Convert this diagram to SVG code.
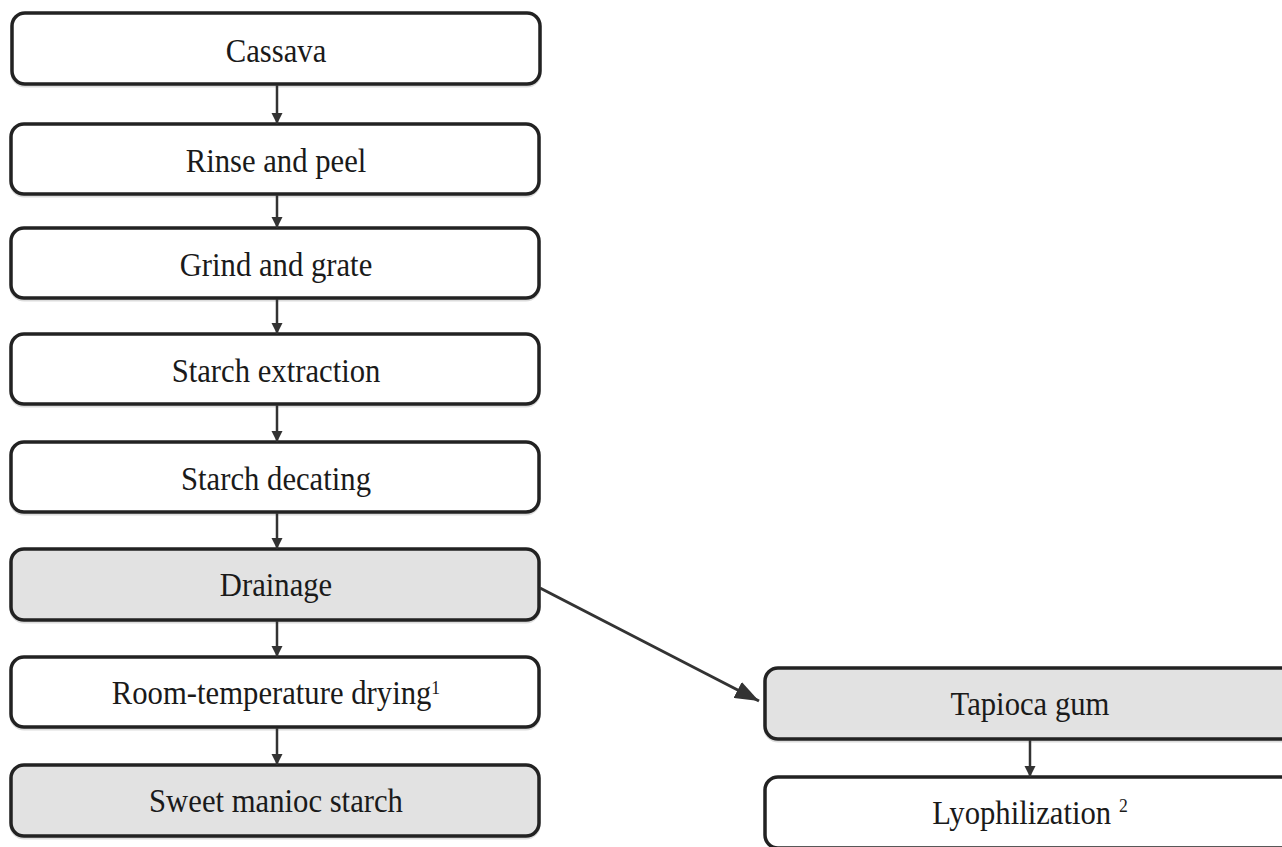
<svg xmlns="http://www.w3.org/2000/svg" width="1282" height="847" viewBox="0 0 1282 847">
<style>
.box{stroke:#222;stroke-width:3.5;fill:#fff}
.gray{fill:#e2e2e2}
.shadow{fill:none;stroke:#dcdcdc;stroke-width:3}
.lbl{font-family:"Liberation Serif","Times New Roman",serif;font-size:33px;fill:#1a1a1a;text-anchor:middle;transform-box:fill-box;transform-origin:center;transform:scaleX(0.93)}
.sup{font-size:19px}
.conn{stroke:#333;stroke-width:2.5;fill:none}
.diag{stroke:#333;stroke-width:3;fill:none}
</style>
<defs>
<marker id="ah" markerWidth="11" markerHeight="13" refX="11" refY="6.5" orient="auto" markerUnits="userSpaceOnUse">
<path d="M0,1 L11,6.5 L0,12 Z" fill="#333"/>
</marker>
<marker id="ahBig" markerWidth="24" markerHeight="18" refX="24" refY="9" orient="auto" markerUnits="userSpaceOnUse">
<path d="M0,0 L24,9 L0,18 Z" fill="#333"/>
</marker>
</defs>
<rect width="1282" height="847" fill="#fff"/>
<g id="n1"><rect class="shadow" x="12" y="15" width="528" height="71" rx="13"/><rect class="box" x="12" y="13" width="528" height="71" rx="13"/><text class="lbl" x="276" y="62">Cassava</text></g>
<g id="n2"><rect class="shadow" x="11" y="126" width="528" height="70" rx="13"/><rect class="box" x="11" y="124" width="528" height="70" rx="13"/><text class="lbl" x="276" y="172">Rinse and peel</text></g>
<g id="n3"><rect class="shadow" x="11" y="230" width="528" height="70" rx="13"/><rect class="box" x="11" y="228" width="528" height="70" rx="13"/><text class="lbl" x="276" y="276">Grind and grate</text></g>
<g id="n4"><rect class="shadow" x="11" y="336" width="528" height="70" rx="13"/><rect class="box" x="11" y="334" width="528" height="70" rx="13"/><text class="lbl" x="276" y="382">Starch extraction</text></g>
<g id="n5"><rect class="shadow" x="11" y="444" width="528" height="70" rx="13"/><rect class="box" x="11" y="442" width="528" height="70" rx="13"/><text class="lbl" x="276" y="490">Starch decating</text></g>
<g id="n6"><rect class="shadow" x="11" y="551" width="528" height="71" rx="13"/><rect class="box gray" x="11" y="549" width="528" height="71" rx="13"/><text class="lbl" x="276" y="596">Drainage</text></g>
<g id="n7"><rect class="shadow" x="11" y="659" width="528" height="70" rx="13"/><rect class="box" x="11" y="657" width="528" height="70" rx="13"/><text class="lbl" x="276" y="704">Room-temperature drying<tspan class="sup" dy="-10">1</tspan></text></g>
<g id="n8"><rect class="shadow" x="11" y="767" width="528" height="71" rx="13"/><rect class="box gray" x="11" y="765" width="528" height="71" rx="13"/><text class="lbl" x="276" y="812">Sweet manioc starch</text></g>
<g id="n9"><rect class="shadow" x="765" y="670" width="530" height="71" rx="13"/><rect class="box gray" x="765" y="668" width="530" height="71" rx="13"/><text class="lbl" x="1030" y="715">Tapioca gum</text></g>
<g id="n10"><rect class="box" x="765" y="777" width="530" height="71" rx="13"/><text class="lbl" x="1030" y="824">Lyophilization <tspan class="sup" dy="-12">2</tspan></text></g>
<g id="connectors">
<line class="conn" x1="277" y1="85" x2="277" y2="124" marker-end="url(#ah)"/>
<line class="conn" x1="277" y1="195" x2="277" y2="228" marker-end="url(#ah)"/>
<line class="conn" x1="277" y1="299" x2="277" y2="334" marker-end="url(#ah)"/>
<line class="conn" x1="277" y1="405" x2="277" y2="442" marker-end="url(#ah)"/>
<line class="conn" x1="277" y1="513" x2="277" y2="549" marker-end="url(#ah)"/>
<line class="conn" x1="277" y1="621" x2="277" y2="657" marker-end="url(#ah)"/>
<line class="conn" x1="277" y1="728" x2="277" y2="765" marker-end="url(#ah)"/>
<line class="conn" x1="1030" y1="740" x2="1030" y2="777" marker-end="url(#ah)"/>
<line class="diag" x1="540" y1="588" x2="759" y2="701" marker-end="url(#ahBig)"/>
</g>
</svg>
